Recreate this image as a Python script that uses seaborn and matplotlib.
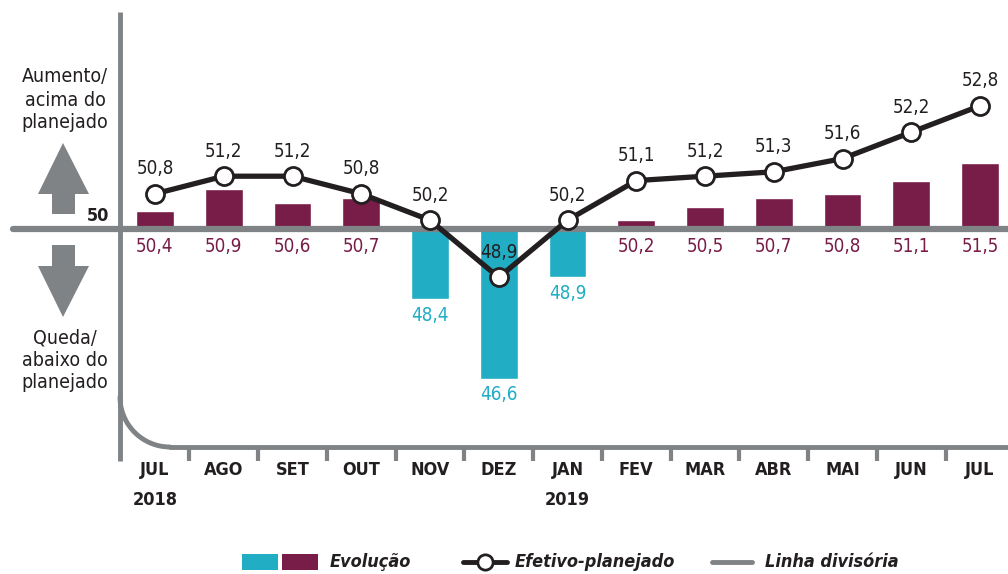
import numpy as np
import pandas as pd
import matplotlib.pyplot as plt
import seaborn as sns
from matplotlib.patches import Polygon, Rectangle

# Data
months = ["JUL", "AGO", "SET", "OUT", "NOV", "DEZ", "JAN",
          "FEV", "MAR", "ABR", "MAI", "JUN", "JUL"]
years = {0: "2018", 6: "2019"}
evolucao = [50.4, 50.9, 50.6, 50.7, 48.4, 46.6, 48.9,
            50.2, 50.5, 50.7, 50.8, 51.1, 51.5]
efetivo = [50.8, 51.2, 51.2, 50.8, 50.2, 48.9, 50.2,
           51.1, 51.2, 51.3, 51.6, 52.2, 52.8]
BASE = 50

MAROON = "#781c48"
TEAL = "#21adc4"
GRAY = "#7f8386"
DARK = "#231f20"

sns.set_theme(style="white")
plt.rcParams["font.family"] = ["DejaVu Sans"]
plt.rcParams["font.stretch"] = "condensed"

df = pd.DataFrame({
    "pos": np.arange(len(months)),
    "mes": months,
    "evol": np.array(evolucao) - BASE,
    "efet": np.array(efetivo) - BASE,
})
df["sinal"] = np.where(df["evol"] >= 0, "alta", "queda")

# pixel helpers (figure is 1008x574, axes fill the figure)
X0, DX, Y0, DY = 155, 68.75, 229, 44.0
def yd(py):
    return (Y0 - py) / DY

fig = plt.figure(figsize=(10.08, 5.74), dpi=100)
deco = fig.add_axes([0, 0, 1, 1], zorder=0)
deco.set_xlim(0, 1008)
deco.set_ylim(574, 0)
deco.axis("off")

ax = fig.add_axes([0, 0, 1, 1], zorder=1)
ax.patch.set_alpha(0)
ax.axis("off")

# vertical axis and rounded bottom
deco.plot([120, 120], [12, 461], color=GRAY, lw=3.5, solid_capstyle="butt")
t = np.linspace(np.pi, np.pi / 2, 40)
deco.plot(170 + 50 * np.cos(t), 397 + 50 * np.sin(t), color=GRAY, lw=3.5)
deco.plot([170, 1008], [447, 447], color=GRAY, lw=3.5)

# arrows
deco.add_patch(Polygon([[52, 214], [52, 194], [38, 194], [63, 143], [89, 194],
                        [75, 194], [75, 214]], closed=True, color=GRAY, lw=0))
deco.add_patch(Polygon([[52, 245], [52, 266], [38, 266], [63, 317], [89, 266],
                        [75, 266], [75, 245]], closed=True, color=GRAY, lw=0))
for py, s in zip([77, 100, 123], ["Aumento/", "acima do", "planejado"]):
    deco.text(65, py, s, ha="center", va="center", fontsize=14, color=DARK)
for py, s in zip([338, 361, 383], ["Queda/", "abaixo do", "planejado"]):
    deco.text(65, py, s, ha="center", va="center", fontsize=14, color=DARK)
deco.text(109, 216, "50", ha="right", va="center", fontsize=13,
          fontweight="bold", color=DARK)

# bars
sns.barplot(data=df, x="pos", y="evol", hue="sinal", native_scale=True,
            palette={"alta": MAROON, "queda": TEAL}, dodge=False, width=0.55,
            saturation=1, legend=False, ax=ax, zorder=2)

# divisory line
ax.axhline(0, xmin=13 / 1008, xmax=1, color=GRAY, lw=4.5, zorder=3)

# line
sns.lineplot(data=df, x="pos", y="efet", color=DARK, lw=3.8, marker="o",
             markersize=13, markerfacecolor="white", markeredgecolor=DARK,
             markeredgewidth=2, ax=ax, zorder=4)

for i, row in df.iterrows():
    ax.text(row["pos"], row["efet"] + 25 / DY, f"{efetivo[i]:.1f}".replace(".", ","),
            ha="center", va="center", fontsize=13.5, color=DARK, zorder=5)
    lab = f"{evolucao[i]:.1f}".replace(".", ",")
    if row["evol"] >= 0:
        ax.text(row["pos"], yd(247), lab, ha="center", va="center",
                fontsize=13.5, color=MAROON, zorder=5)
    else:
        ax.text(row["pos"], row["evol"] - 16 / DY, lab, ha="center",
                va="center", fontsize=13.5, color=TEAL, zorder=5)
    ax.text(row["pos"], yd(470), row["mes"], ha="center", va="center",
            fontsize=13, fontweight="bold", color=DARK)
    if i in years:
        ax.text(row["pos"], yd(500), years[i], ha="center", va="center",
                fontsize=13, fontweight="bold", color=DARK)
    if i < len(months) - 1:
        ax.plot([row["pos"] + 0.5] * 2, [yd(447), yd(461)], color=GRAY,
                lw=3, solid_capstyle="butt")

ax.set_xlim(-X0 / DX, (1008 - X0) / DX)
ax.set_ylim(yd(574), yd(0))

# legend (drawn in pixel space)
LY = 562
leg_font = dict(fontsize=13, fontweight="bold", fontstyle="italic",
                color=DARK, va="center", ha="left")
deco.add_patch(Rectangle((242, LY - 8), 36, 16, color=TEAL, lw=0))
deco.add_patch(Rectangle((282, LY - 8), 36, 16, color=MAROON, lw=0))
deco.text(330, LY, "Evolução", **leg_font)
deco.plot([463, 507], [LY, LY], color=DARK, lw=3.5)
deco.plot([485], [LY], marker="o", markersize=11, markerfacecolor="white",
          markeredgecolor=DARK, markeredgewidth=2)
deco.text(515, LY, "Efetivo-planejado", **leg_font)
deco.plot([712, 752], [LY, LY], color=GRAY, lw=3.5)
deco.text(765, LY, "Linha divisória", **leg_font)

fig.savefig("out.png", dpi=100)
